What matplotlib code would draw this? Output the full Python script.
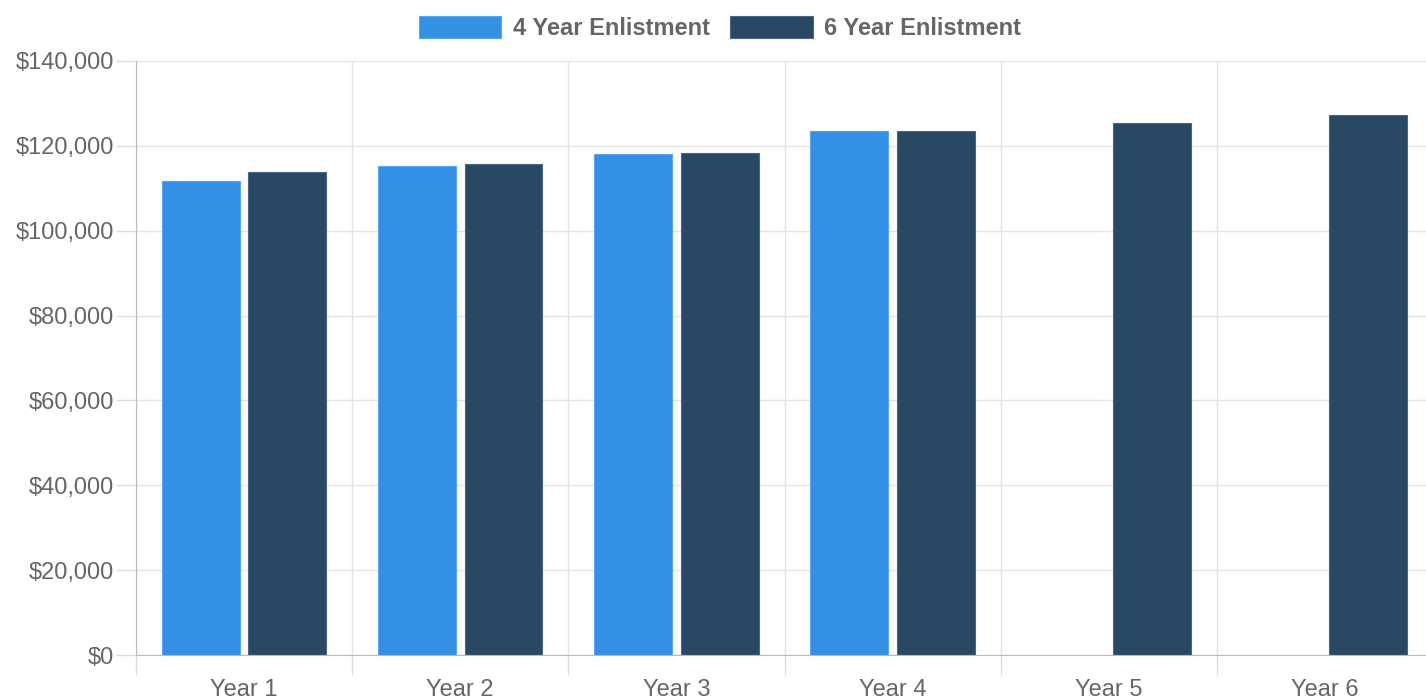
import matplotlib
matplotlib.use("Agg")
import matplotlib.pyplot as plt
import numpy as np
from matplotlib.ticker import FuncFormatter, MultipleLocator, FixedLocator

plt.rcParams['font.family'] = ['Liberation Sans', 'DejaVu Sans']

years = ['Year 1', 'Year 2', 'Year 3', 'Year 4', 'Year 5', 'Year 6']
four_year = [111700, 115200, 118100, 123400, np.nan, np.nan]
six_year = [113800, 115700, 118300, 123400, 125400, 127300]

fig = plt.figure(figsize=(14.26, 7.0), dpi=100)
# plot area runs slightly past the right edge, as in the screenshot
ax = fig.add_axes([136 / 1426, 1 - 655 / 700, 1297 / 1426, (655 - 61) / 700])

x = np.arange(len(years))
ax.bar(x - 0.2, four_year, width=0.36, color='#3490e4', edgecolor='#5aa6ec', linewidth=0.8,
       label='4 Year Enlistment', zorder=3)
ax.bar(x + 0.2, six_year, width=0.36, color='#284863', edgecolor='#4a6682', linewidth=0.8,
       label='6 Year Enlistment', zorder=3)

ax.set_xlim(-0.5, len(years) - 0.5)
ax.set_ylim(0, 140000)
ax.yaxis.set_major_locator(MultipleLocator(20000))
ax.yaxis.set_major_formatter(FuncFormatter(lambda v, p: '${:,.0f}'.format(v)))

ax.set_xticks(x)
ax.set_xticklabels(years)
ax.xaxis.set_minor_locator(FixedLocator(np.arange(-0.5, len(years), 1.0)))
ax.tick_params(axis='x', which='major', length=0, pad=17, labelsize=17, labelcolor='#666666')
ax.tick_params(axis='x', which='minor', length=14.5, color='#dddddd', width=1)
ax.tick_params(axis='y', which='major', length=14.5, color='#dddddd', width=1, pad=1,
               labelsize=17, labelcolor='#666666')

ax.grid(axis='y', which='major', color='#e4e4e4', linewidth=1, zorder=0)
ax.grid(axis='x', which='minor', color='#e4e4e4', linewidth=1, zorder=0)

for s in ['top', 'right']:
    ax.spines[s].set_visible(False)
ax.spines['left'].set_color('#bbbbbb')
ax.spines['bottom'].set_color('#bbbbbb')
ax.spines['left'].set_zorder(4)
ax.spines['bottom'].set_zorder(4)

fig.legend(loc='center', bbox_to_anchor=(720 / 1426, 1 - 28 / 700), ncol=2, frameon=False,
           prop={'weight': 'bold', 'size': 17}, labelcolor='#666666',
           handlelength=3.5, handleheight=1.1, columnspacing=0.85, handletextpad=0.5)

fig.savefig('out.png', dpi=100)
